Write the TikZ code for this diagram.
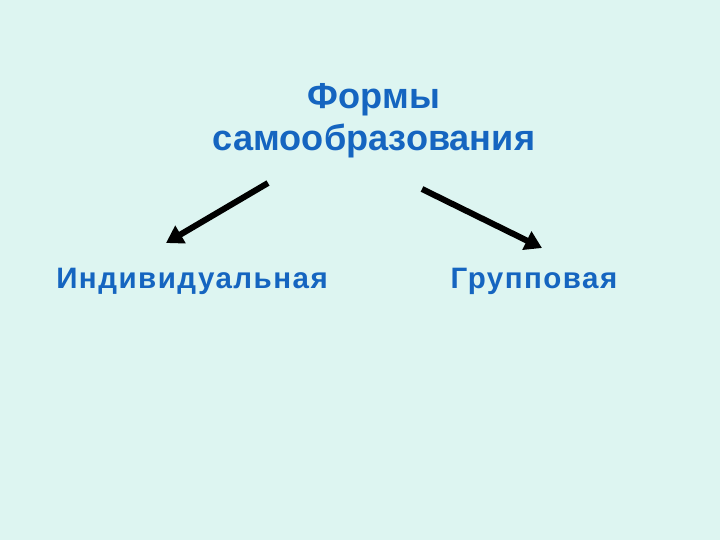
\documentclass[tikz,border=0pt]{standalone}
\usepackage{fontspec}
\setmainfont{Liberation Sans}
\usetikzlibrary{arrows.meta}
\definecolor{slidebg}{HTML}{DDF5F1}
\definecolor{titleblue}{HTML}{1565C0}
\begin{document}
\begin{tikzpicture}[x=0.025cm, y=-0.025cm, thick,
    title/.style = {align=center, font=\fontsize{25.7}{30}\selectfont\bfseries, text=titleblue},
    kind/.style = {font=\fontsize{21}{24}\selectfont\bfseries\addfontfeature{LetterSpace=5}, text=titleblue},
    pointer/.style = {line width=4.3pt, -{Triangle[length=12pt,width=14pt]}}]
    \fill[slidebg] (0,0) rectangle (720,540);
    \useasboundingbox (0,0) rectangle (720,540);
    \node[title] (forms) at (374,121) {Формы\\самообразования};
    \node[kind] (ind) at (192,281) {Индивидуальная};
    \node[kind] (grp) at (534,281) {Групповая};
    \coordinate (a1) at (268,183);
    \coordinate (b1) at (166,243);
    \coordinate (a2) at (422,189);
    \coordinate (b2) at (542,248);
    \draw[pointer] (a1) -- (b1);
    \draw[pointer] (a2) -- (b2);
\end{tikzpicture}
\end{document}
